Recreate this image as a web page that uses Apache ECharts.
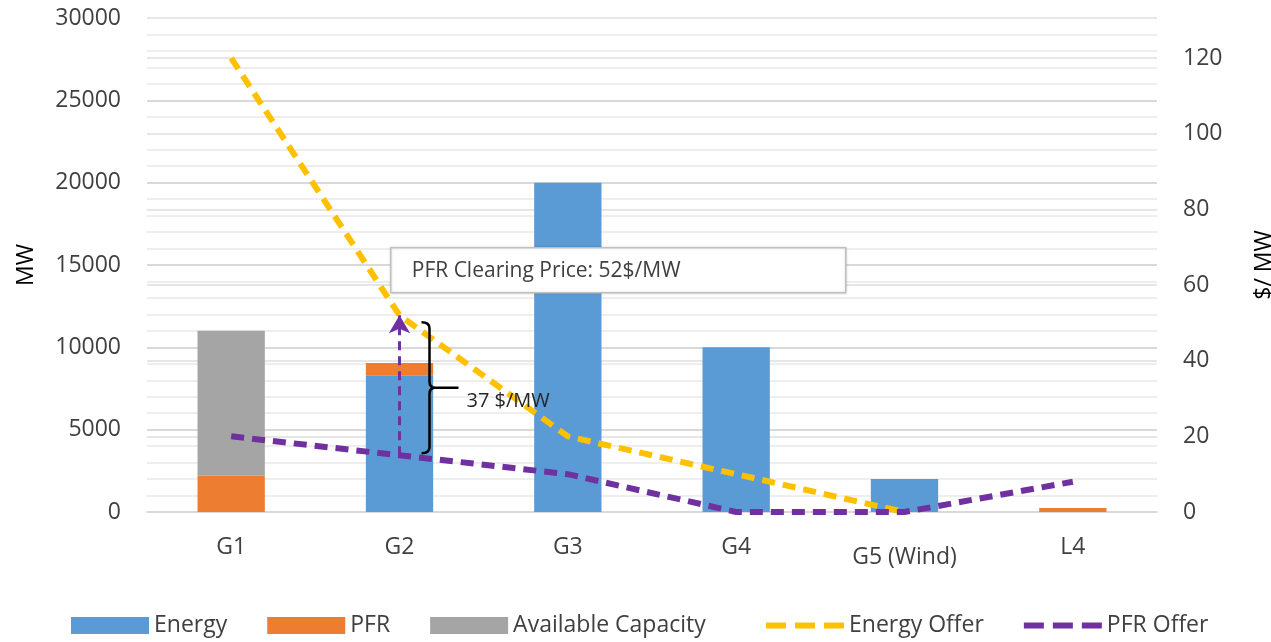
<!DOCTYPE html>
<html>
<head>
<meta charset="utf-8">
<script src="https://cdn.jsdelivr.net/npm/echarts@6/dist/echarts.min.js"></script>
<style>
html,body{margin:0;padding:0;background:#fff;overflow:hidden;}
#chart{width:1271px;height:642px;}
</style>
</head>
<body>
<div id="chart"></div>
<script>
const categories = ['G1', 'G2', 'G3', 'G4', 'G5 (Wind)', 'L4'];
const energy = [null, 8300, 20000, 10000, 2000, null];
const pfr = [2200, 750, null, null, null, 250];
const availableCapacity = [8800, null, null, null, null, null];
const energyOffer = [120, 52, 20, 10, 0, null];
const pfrOffer = [20, 15, 10, 0, 0, 8];
const clearingPrice = 52;
const clearingLabel = 'PFR Clearing Price: 52$/MW';
const leftTicks = { min: 0, max: 30000, interval: 5000 };
const rightTicks = { min: 0, max: 130.6, interval: 20 };

const FONT = 'Open Sans';
const chart = echarts.init(document.getElementById('chart'));

const braceIdx = 1;
const dashIcon = 'path://M0,0h20v6h-20z M29,0h20v6h-20z M58,0h20v6h-20z';
const legendText = { fontFamily: FONT, fontSize: 23, color: '#404040' };
const option = {
  backgroundColor: '#ffffff',
  textStyle: { fontFamily: FONT },
  grid: { left: 147, right: 114, top: 18, bottom: 130, containLabel: false, outerBoundsMode: 'none' },
  legend: [
    {
      bottom: 0, left: 66,
      itemWidth: 78, itemHeight: 17, itemGap: 40,
      textStyle: legendText,
      data: [
        { name: 'Energy', icon: 'rect' },
        { name: 'PFR', icon: 'rect' },
        { name: 'Available Capacity', icon: 'rect' }
      ]
    },
    {
      bottom: 0, left: 761,
      itemWidth: 78, itemHeight: 6, itemGap: 40,
      textStyle: legendText,
      data: [
        { name: 'Energy Offer', icon: dashIcon },
        { name: 'PFR Offer', icon: dashIcon }
      ]
    }
  ],
  xAxis: {
    type: 'category',
    data: categories,
    axisLine: { show: true, lineStyle: { color: '#d9d9d9', width: 2 } },
    axisTick: { show: false },
    axisLabel: {
      interval: 0,
      fontFamily: FONT, fontSize: 23, color: '#404040', margin: 24,
      formatter: function (v) { return v === 'G5 (Wind)' ? '{low|' + v + '}' : v; },
      rich: { low: { fontFamily: FONT, fontSize: 23, color: '#404040', padding: [10, 0, 0, 0] } }
    }
  },
  yAxis: [
    {
      type: 'value',
      min: leftTicks.min, max: leftTicks.max, interval: leftTicks.interval,
      name: 'MW',
      nameLocation: 'middle',
      nameGap: 109,
      nameRotate: 90,
      nameTextStyle: { fontFamily: FONT, fontSize: 23, color: '#000' },
      axisLine: { show: false },
      axisTick: { show: false },
      axisLabel: { fontFamily: FONT, fontSize: 23, color: '#404040', margin: 26, formatter: function (v) { return String(v); } },
      splitLine: { show: true, lineStyle: { color: '#d9d9d9', width: 2 } },
      minorTick: { show: false, splitNumber: 5 },
      minorSplitLine: { show: true, lineStyle: { color: '#eeeeee', width: 2 } }
    },
    {
      type: 'value',
      min: rightTicks.min, max: rightTicks.max, interval: rightTicks.interval,
      name: '$/ MW',
      nameLocation: 'middle',
      nameGap: 96,
      nameRotate: 90,
      nameTextStyle: { fontFamily: FONT, fontSize: 23, color: '#000' },
      axisLine: { show: false },
      axisTick: { show: false },
      axisLabel: { fontFamily: FONT, fontSize: 23, color: '#404040', margin: 26, showMaxLabel: false },
      splitLine: { show: true, lineStyle: { color: '#e6e6e6', width: 2 } }
    }
  ],
  series: [
    {
      name: 'Energy', type: 'bar', stack: 'mw', data: energy, barWidth: '40%',
      itemStyle: { color: '#5B9BD5' }
    },
    {
      name: 'PFR', type: 'bar', stack: 'mw', data: pfr, barWidth: '40%',
      itemStyle: { color: '#ED7D31' }
    },
    {
      name: 'Available Capacity', type: 'bar', stack: 'mw', data: availableCapacity, barWidth: '40%',
      itemStyle: { color: '#A5A5A5' }
    },
    {
      name: 'Energy Offer', type: 'line', yAxisIndex: 1, data: energyOffer,
      symbol: 'none', smooth: false, z: 5,
      itemStyle: { color: '#FFC000' },
      lineStyle: { color: '#FFC000', width: 6, type: [13, 8], cap: 'butt' }
    },
    {
      name: 'PFR Offer', type: 'line', yAxisIndex: 1, data: pfrOffer,
      symbol: 'none', smooth: false, z: 6,
      itemStyle: { color: '#7030A0' },
      lineStyle: { color: '#7030A0', width: 6, type: [13, 8], cap: 'butt' },
      markLine: {
        silent: true,
        symbol: ['none', 'arrow'],
        symbolSize: [16, 18],
        label: { show: false },
        lineStyle: { color: '#7030A0', width: 3, type: [9, 6] },
        data: [[
          { coord: [categories[braceIdx], pfrOffer[braceIdx]] },
          { coord: [categories[braceIdx], clearingPrice] }
        ]]
      }
    },
    {
      name: 'brace', type: 'custom', yAxisIndex: 1, silent: true, z: 7,
      data: [[braceIdx, clearingPrice, pfrOffer[braceIdx]]],
      renderItem: function (params, api) {
        const top = api.coord([api.value(0), api.value(1)]);
        const bot = api.coord([api.value(0), api.value(2)]);
        const x0 = top[0] + 22, x1 = top[0] + 30, xt = top[0] + 59;
        const y0 = top[1] + 7, y1 = bot[1] - 2, ym = (y0 + y1) / 2;
        const path = 'M' + x0 + ' ' + y0 +
          ' Q' + x1 + ' ' + y0 + ' ' + x1 + ' ' + (y0 + 6) +
          ' L' + x1 + ' ' + (ym - 6) +
          ' Q' + x1 + ' ' + ym + ' ' + (x1 + 6) + ' ' + ym +
          ' L' + xt + ' ' + ym +
          ' M' + (x1 + 6) + ' ' + ym +
          ' Q' + x1 + ' ' + ym + ' ' + x1 + ' ' + (ym + 6) +
          ' L' + x1 + ' ' + (y1 - 6) +
          ' Q' + x1 + ' ' + y1 + ' ' + x0 + ' ' + y1;
        return {
          type: 'group',
          children: [
            { type: 'path', shape: { pathData: path }, style: { fill: 'none', stroke: '#000', lineWidth: 2.5 } },
            {
              type: 'text',
              style: {
                x: x1 + 37, y: ym + 14,
                text: Math.round(api.value(1) - api.value(2)) + ' $/MW',
                fontFamily: FONT, fontSize: 20, fill: '#262626',
                textVerticalAlign: 'middle'
              }
            }
          ]
        };
      }
    }
  ],
  graphic: [
    {
      type: 'group', left: 390, top: 247, z: 100,
      children: [
        { type: 'rect', z: 100, shape: { x: 0, y: 0, width: 455, height: 45 },
          style: { fill: '#ffffff', stroke: '#bfbfbf', lineWidth: 1.5, shadowBlur: 3, shadowColor: 'rgba(0,0,0,0.15)' } },
        { type: 'text', z: 101, style: { x: 21, y: 23, text: clearingLabel, fontFamily: FONT, fontSize: 21, fill: '#404040', textVerticalAlign: 'middle' } }
      ]
    }
  ]
};
chart.setOption(option);
</script>
</body>
</html>
